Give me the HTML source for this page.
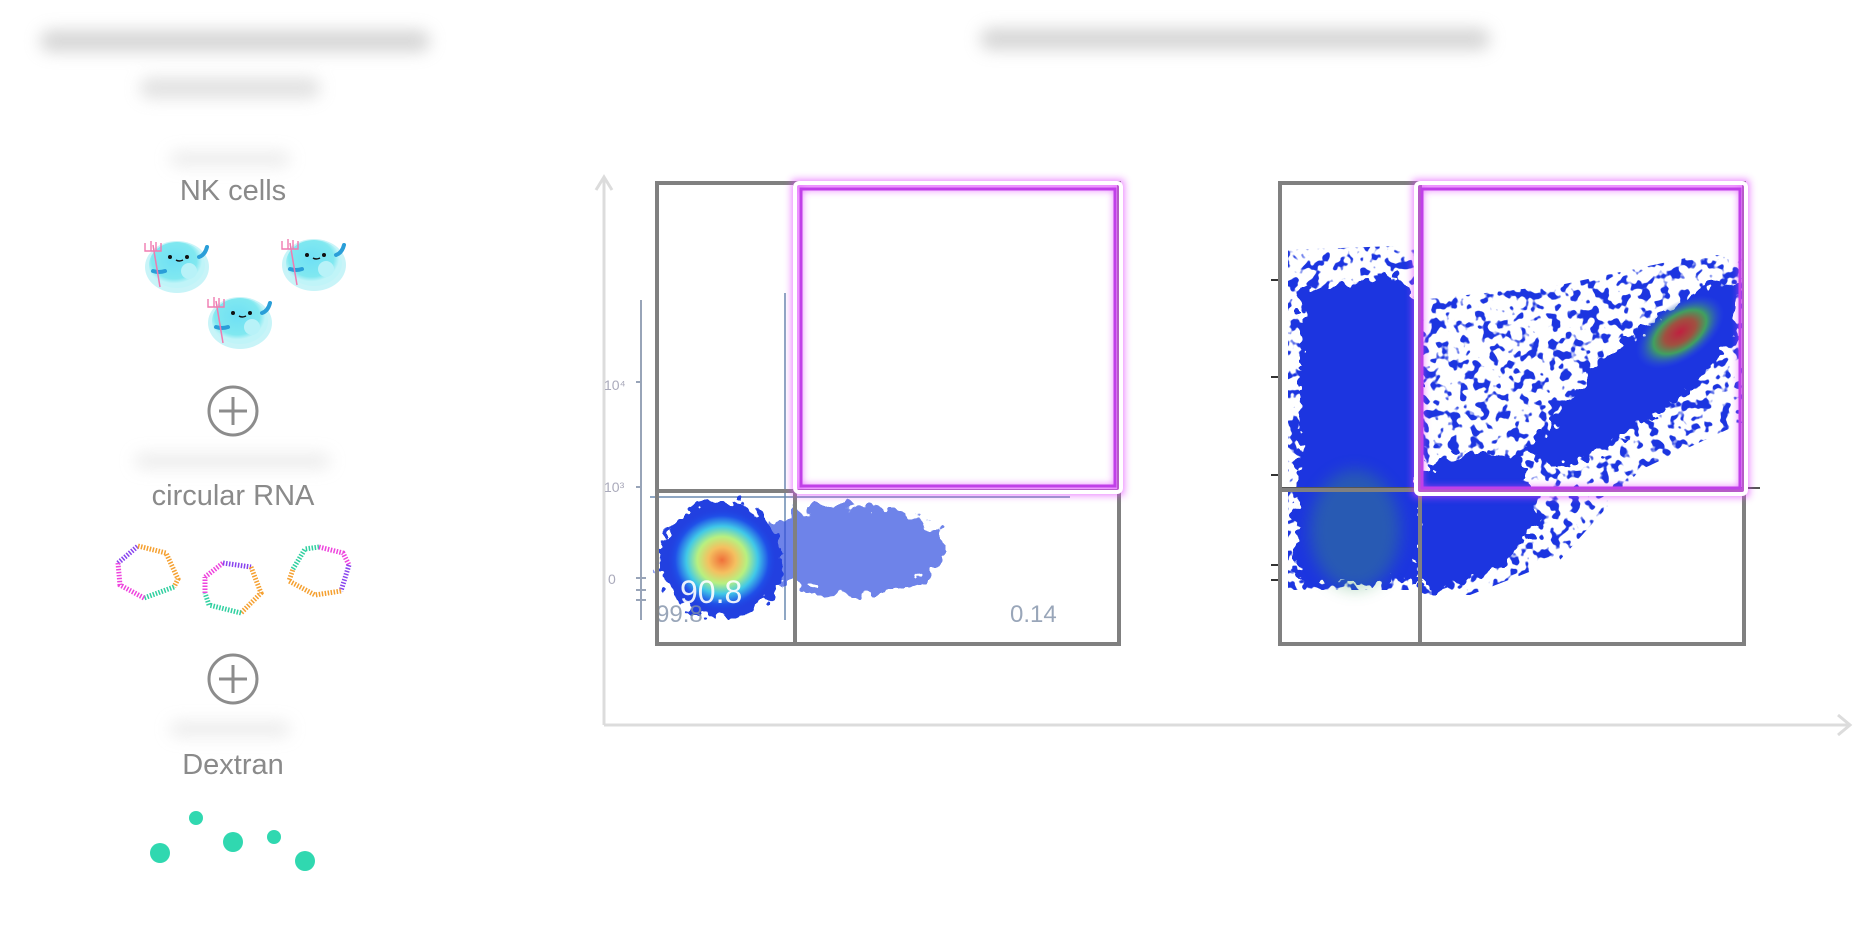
<!DOCTYPE html>
<html><head><meta charset="utf-8"><style>
html,body{margin:0;padding:0;background:#fff;}
svg{display:block;}
text{font-family:"Liberation Sans",sans-serif;}
</style></head><body>
<svg width="1854" height="930" viewBox="0 0 1854 930" xmlns="http://www.w3.org/2000/svg">
<defs>
<filter id="blur8" x="-50%" y="-50%" width="200%" height="200%"><feGaussianBlur stdDeviation="8"/></filter>
<filter id="glow" x="-10%" y="-10%" width="120%" height="120%"><feGaussianBlur stdDeviation="4"/></filter>
<filter id="rough" x="-20%" y="-20%" width="140%" height="140%">
<feTurbulence type="fractalNoise" baseFrequency="0.09" numOctaves="2" seed="3" result="n"/>
<feDisplacementMap in="SourceGraphic" in2="n" scale="28" xChannelSelector="R" yChannelSelector="G"/>
</filter>
<filter id="speck" x="-5%" y="-5%" width="110%" height="110%">
<feTurbulence type="fractalNoise" baseFrequency="0.1" numOctaves="2" seed="7" result="n"/>
<feColorMatrix in="n" type="matrix" values="0 0 0 0 0  0 0 0 0 0  0 0 0 0 0  0 0 0 14 -7.6" result="m"/>
<feComposite in="SourceGraphic" in2="m" operator="in"/>
</filter>
<radialGradient id="hot1"><stop offset="0" stop-color="#f0703a"/><stop offset="0.25" stop-color="#f4c060"/><stop offset="0.45" stop-color="#b8f080"/><stop offset="0.65" stop-color="#40c8e8"/><stop offset="0.85" stop-color="#2050e8"/><stop offset="1" stop-color="#2040e0" stop-opacity="0"/></radialGradient>
<radialGradient id="hot2"><stop offset="0" stop-color="#c02040"/><stop offset="0.35" stop-color="#a05040"/><stop offset="0.6" stop-color="#40a060"/><stop offset="1" stop-color="#3050e0" stop-opacity="0"/></radialGradient>
<radialGradient id="cell" cx="0.45" cy="0.4"><stop offset="0" stop-color="#6fe0f5"/><stop offset="0.8" stop-color="#80e8f0"/><stop offset="1" stop-color="#c0f4f8"/></radialGradient>
<g id="nk">
<ellipse cx="0" cy="4" rx="32" ry="26" fill="#c8f4f8"/>
<ellipse cx="0" cy="2" rx="28" ry="23" fill="url(#cell)"/>
<circle cx="12" cy="8" r="8" fill="#b8f2f8"/>
<circle cx="-7" cy="-6" r="2" fill="#111"/><circle cx="10" cy="-6" r="2" fill="#111"/>
<path d="M-1 -3 q3 2 7 0" stroke="#111" stroke-width="1.4" fill="none"/>
<path d="M22 -6 q6 -2 8 -10" stroke="#2a9ed8" stroke-width="4" fill="none" stroke-linecap="round"/>
<path d="M-24 8 q6 2 12 0" stroke="#2a9ed8" stroke-width="4" fill="none" stroke-linecap="round"/>
<line x1="-24" y1="-18" x2="-17" y2="24" stroke="#f07ab0" stroke-width="1.5"/>
<path d="M-32 -20 v8 h16 v-8 M-26 -22 v10 M-21 -21 v9" stroke="#f07ab0" stroke-width="1.4" fill="none"/>
</g>
</defs>

<!-- blurred titles -->
<g filter="url(#blur8)" opacity="0.6">
<rect x="40" y="30" width="390" height="22" rx="11" fill="#bbb"/>
<rect x="140" y="78" width="180" height="20" rx="10" fill="#ccc"/>
<rect x="980" y="28" width="510" height="22" rx="11" fill="#bbb"/>
<rect x="170" y="152" width="120" height="14" rx="7" fill="#ddd"/>
<rect x="135" y="454" width="195" height="14" rx="7" fill="#ddd"/>
<rect x="170" y="722" width="120" height="14" rx="7" fill="#ddd"/>
</g>

<text x="233" y="200" font-size="29" fill="#8a8a8a" text-anchor="middle">NK cells</text>
<text x="233" y="505" font-size="29" fill="#8a8a8a" text-anchor="middle">circular RNA</text>
<text x="233" y="774" font-size="29" fill="#8a8a8a" text-anchor="middle">Dextran</text>

<use href="#nk" transform="translate(177 263)"/>
<use href="#nk" transform="translate(314 261)"/>
<use href="#nk" transform="translate(240 319)"/>

<g stroke="#8c8c8c" stroke-width="3" fill="none">
<circle cx="233" cy="411" r="24"/><path d="M219 411h28M233 397v28"/>
<circle cx="233" cy="679" r="24"/><path d="M219 679h28M233 665v28"/>
</g>

<g stroke-width="5" fill="none" stroke-dasharray="1.5 1.5">
<g transform="translate(148 573)">
<path d="M-30 -10 L-10 -27" stroke="#8844ee"/><path d="M-10 -27 L18 -20 L30 6 L26 14" stroke="#f5a030"/><path d="M26 14 L-4 25" stroke="#30d0a0"/><path d="M-4 25 L-28 12 L-30 -10" stroke="#ee44dd"/>
</g>
<g transform="translate(233 587)">
<path d="M-28 -10 L-10 -24" stroke="#ee44dd"/><path d="M-10 -24 L18 -20" stroke="#8844ee"/><path d="M18 -20 L28 6 L8 26" stroke="#f5a030"/><path d="M8 26 L-24 18 L-28 6" stroke="#30d0a0"/><path d="M-28 6 L-28 -10" stroke="#ee44dd"/>
</g>
<g transform="translate(319 573)">
<path d="M-26 -4 L-14 -24 L0 -26" stroke="#30d0a0"/><path d="M0 -26 L24 -20 L30 -8" stroke="#ee44dd"/><path d="M30 -8 L22 18" stroke="#8844ee"/><path d="M22 18 L-4 22 L-30 8 L-26 -4" stroke="#f5a030"/>
</g>
</g>

<g fill="#30d8b0">
<circle cx="196" cy="818" r="7"/><circle cx="160" cy="853" r="10"/><circle cx="233" cy="842" r="10"/><circle cx="274" cy="837" r="7"/><circle cx="305" cy="861" r="10"/>
</g>

<g stroke="#dcdcdc" stroke-width="3" fill="none">
<path d="M604 725 V178"/><path d="M596 190 L604 177 L612 190"/>
<path d="M604 725 H1850"/><path d="M1838 715 L1850 725 L1838 735"/>
</g>

<!-- plot 1 data -->
<g>
<line x1="785" y1="293" x2="785" y2="620" stroke="#6a8ab0" stroke-width="1.5"/>
<line x1="650" y1="497" x2="1070" y2="497" stroke="#6a8ab0" stroke-width="1.5"/>
<g stroke="#98a4b8" stroke-width="2">
<path d="M641 300v320"/><path d="M636 382h6M636 487h6M636 578h10M636 590h10M636 600h10"/>
</g>
<text x="604" y="390" font-size="14" fill="#aab">10⁴</text>
<text x="604" y="492" font-size="14" fill="#aab">10³</text>
<text x="608" y="584" font-size="14" fill="#aab">0</text>
<ellipse cx="850" cy="550" rx="95" ry="45" fill="#3050e0" opacity="0.7" filter="url(#rough)"/>
<ellipse cx="721" cy="560" rx="62" ry="58" fill="#2040e0" filter="url(#rough)"/>
<ellipse cx="722" cy="560" rx="55" ry="52" fill="url(#hot1)"/>
<text x="680" y="603" font-size="32" fill="#fff" opacity="0.9">90.8</text>
<text x="656" y="622" font-size="24" fill="#8090a8" opacity="0.8">99.8</text>
<text x="1010" y="622" font-size="24" fill="#8090a8" opacity="0.8">0.14</text>
</g>

<!-- plot 2 data -->
<g>
<g stroke="#333" stroke-width="2"><path d="M1271 280h8M1271 377h8M1271 475h8M1271 565h8M1271 580h8"/></g>
<path d="M1288 250 L1420 245 L1420 590 L1288 590 Z" fill="#1a35e0" filter="url(#speck)"/>
<path d="M1300 290 L1395 275 L1418 300 L1418 580 L1300 585 L1295 540 L1300 400 Z" fill="#1a35e0" filter="url(#rough)"/>
<path d="M1420 300 L1560 285 L1700 255 L1748 255 L1748 420 L1640 470 L1560 560 L1470 595 L1420 595 Z" fill="#1a35e0" filter="url(#speck)"/>
<path d="M1420 470 L1470 450 L1520 460 L1540 520 L1500 570 L1440 590 L1420 590 Z" fill="#1a35e0" filter="url(#rough)"/>
<path d="M1530 450 L1600 360 L1700 290 L1740 280 L1735 340 L1680 400 L1600 450 L1560 470 Z" fill="#1a35e0" filter="url(#rough)"/>
<ellipse cx="1680" cy="332" rx="50" ry="28" transform="rotate(-35 1680 332)" fill="url(#hot2)"/>
<ellipse cx="1355" cy="530" rx="45" ry="60" fill="#40a060" opacity="0.35" filter="url(#blur8)"/>
<line x1="1280" y1="488" x2="1760" y2="488" stroke="#555" stroke-width="2"/>
</g>

<g stroke="#808080" stroke-width="4" fill="none">
<rect x="657" y="183" width="462" height="461"/>
<path d="M795 183V644M657 491H1119"/>
<rect x="1280" y="183" width="464" height="461"/>
<path d="M1420 183V644M1280 490H1744"/>
</g>
<g fill="none">
<rect x="797" y="185" width="322" height="305" stroke="#e040ff" stroke-width="10" filter="url(#glow)" opacity="0.7"/>
<rect x="795" y="183" width="326" height="309" rx="4" stroke="#fff" stroke-width="4"/>
<rect x="801" y="189" width="314" height="297" stroke="#c040e8" stroke-width="3"/>
<rect x="1418" y="185" width="326" height="307" stroke="#e040ff" stroke-width="10" filter="url(#glow)" opacity="0.7"/>
<rect x="1416" y="183" width="330" height="311" rx="4" stroke="#fff" stroke-width="4"/>
<rect x="1422" y="189" width="318" height="299" stroke="#c040e8" stroke-width="3"/>
</g>
</svg>
</body></html>
